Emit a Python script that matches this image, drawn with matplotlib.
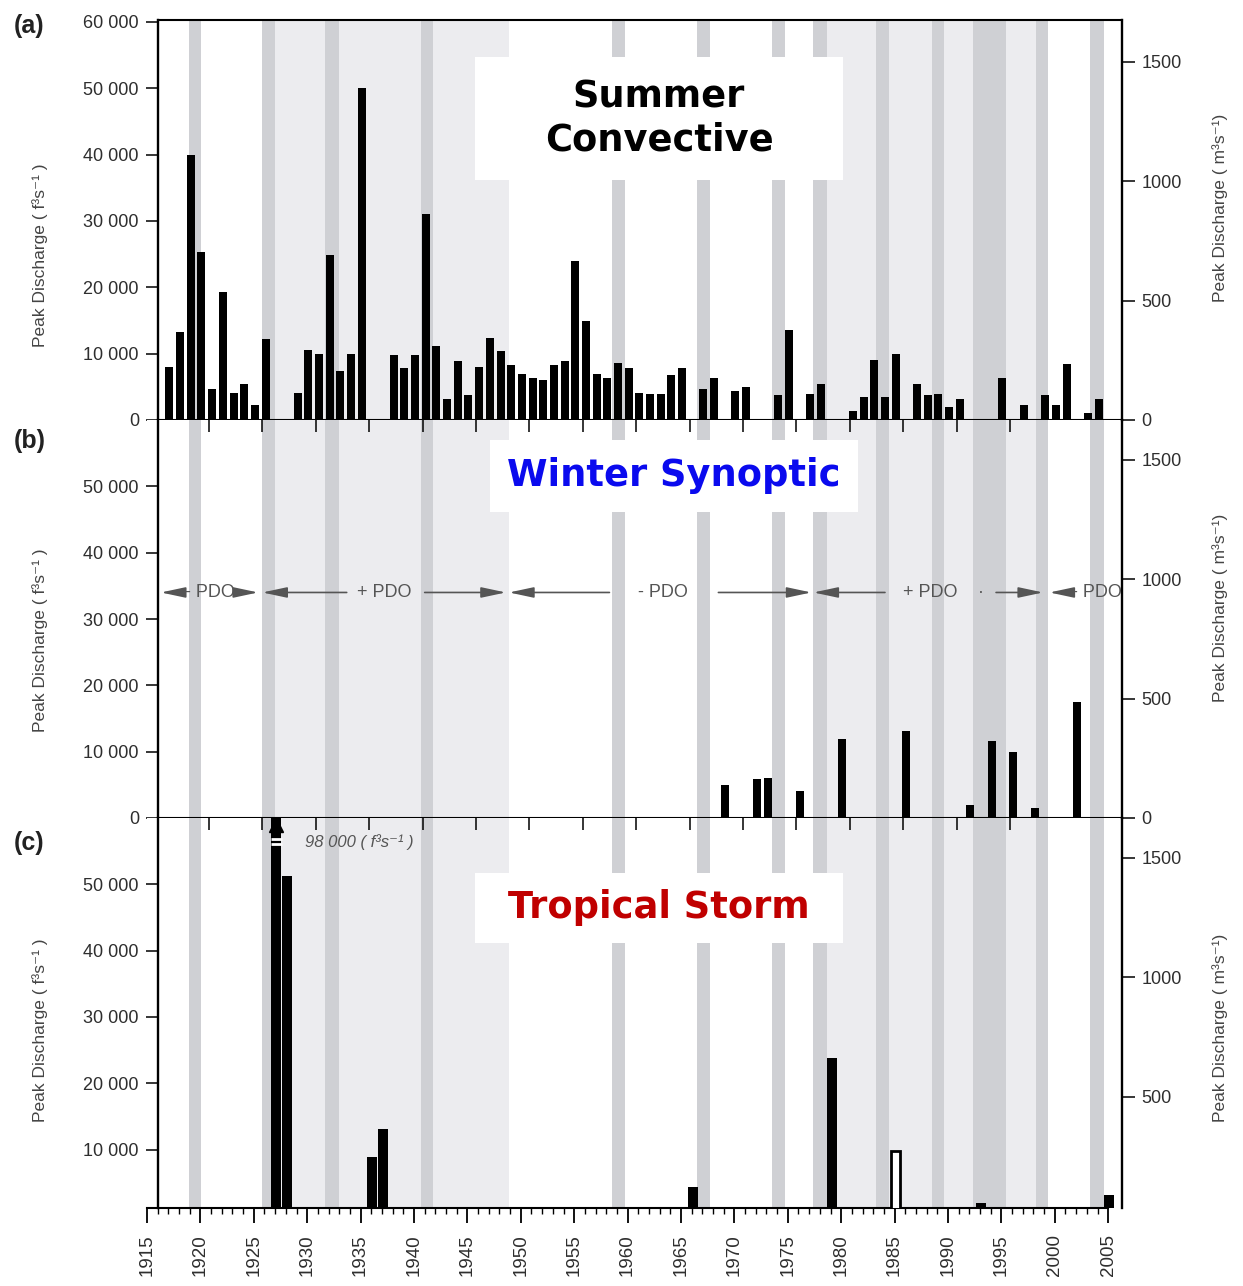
import numpy as np
import matplotlib
matplotlib.use("Agg")
import matplotlib.pyplot as plt
import matplotlib.transforms as mtransforms
from matplotlib.lines import Line2D
from matplotlib.patches import Rectangle
from matplotlib.markers import TICKDOWN
from matplotlib.ticker import FuncFormatter

# ---- data (peak discharge, ft3/s) ----
summer_years = [1917, 1918, 1919, 1920, 1921, 1922, 1923, 1924, 1925, 1926,
                1929, 1930, 1931, 1932, 1933, 1934, 1935,
                1938, 1939, 1940, 1941, 1942, 1943, 1944, 1945, 1946, 1947, 1948,
                1949, 1950, 1951, 1952, 1953, 1954, 1955, 1956, 1957, 1958, 1959,
                1960, 1961, 1962, 1963, 1964, 1965, 1967, 1968, 1970, 1971,
                1974, 1975, 1977, 1978, 1981, 1982, 1983, 1984, 1985,
                1987, 1988, 1989, 1990, 1991, 1995, 1997, 1999, 2000, 2001,
                2003, 2004]
summer_q = [8000, 13300, 40000, 25300, 4700, 19300, 4100, 5400, 2200, 12200,
            4100, 10600, 10000, 24800, 7400, 10000, 50000,
            9800, 7800, 9800, 31000, 11100, 3200, 8900, 3700, 8000, 12300, 10400,
            8300, 7000, 6300, 6000, 8300, 8900, 24000, 14900, 7000, 6300, 8600,
            7800, 4100, 3900, 3900, 6800, 7900, 4700, 6300, 4300, 4900,
            3700, 13500, 3900, 5500, 1300, 3400, 9100, 3400, 10000,
            5500, 3800, 3900, 1900, 3200, 6400, 2300, 3700, 2300, 8500,
            1000, 3200]

winter_years = [1969, 1972, 1973, 1976, 1980, 1986, 1992, 1994, 1996, 1998, 2002]
winter_q = [5000, 5900, 6000, 4100, 11900, 13100, 1900, 11600, 9900, 1500, 17500]

tropical_years = [1927, 1928, 1936, 1937, 1966, 1979, 1985, 1993, 2005]
tropical_q = [98000, 51300, 8900, 13100, 4300, 23800, 9800, 2000, 3100]
tropical_hollow = [1985]

# shaded periods
pos_pdo_light = [(1927.0, 1948.9), (1978.7, 1998.3)]
dark_bands = [(1918.95, 1920.05), (1925.8, 1927.0), (1931.7, 1933.0),
              (1940.7, 1941.8), (1958.5, 1959.8), (1966.5, 1967.7),
              (1973.5, 1974.7), (1977.4, 1978.7), (1983.3, 1984.5),
              (1988.5, 1989.6), (1992.3, 1995.4), (1998.2, 1999.4),
              (2003.3, 2004.6)]

# PDO phase arrows: (tail, tip)
pdo_arrows = [(1918.4, 1916.3), (1923.4, 1925.4),
              (1933.7, 1925.8), (1941.0, 1948.6),
              (1958.3, 1948.9), (1968.5, 1977.2),
              (1984.1, 1977.4), (1994.5, 1998.9),
              (2001.5, 1999.5)]
pdo_labels = [(1920.9, "- PDO", "center"), (1937.2, "+ PDO", "center"),
              (1963.3, "- PDO", "center"), (1988.3, "+ PDO", "center"),
              (1993.1, "·", "center"), (2001.6, "- PDO", "left")]

CFS_PER_CMS = 36.0
plt.rcParams["font.family"] = ["Liberation Sans", "DejaVu Sans"]

W, H = 1243, 1286
fig = plt.figure(figsize=(W / 100, H / 100), dpi=100)


def fx(px):
    return px / W


def fy(py):
    return 1 - py / H


X0, X1 = 1915, 1915 + (1122 - 147) / 10.68
SHIFT = 0.1
LIGHT = "#ececef"
DARK = "#cfd0d4"
TXT = "#2e2e2e"


def make_axes(top, bottom):
    return fig.add_axes([fx(147), fy(bottom), fx(1122) - fx(147),
                         (bottom - top) / H])


ax_a = make_axes(20, 420)
ax_b = make_axes(420, 818)
ax_c = make_axes(818, 1208)

thousands = FuncFormatter(lambda v, p: f"{int(round(v)):,}".replace(",", " "))

ylims = {ax_a: (0, 60300), ax_b: (0, 60000), ax_c: (1206, 60000)}
lticks = {ax_a: np.arange(0, 60001, 10000), ax_b: np.arange(0, 50001, 10000),
          ax_c: np.arange(10000, 50001, 10000)}
rticks = {ax_a: [0, 500, 1000, 1500], ax_b: [0, 500, 1000, 1500],
          ax_c: [500, 1000, 1500]}

for ax in (ax_a, ax_b, ax_c):
    ax.set_xlim(X0, X1)
    ax.set_ylim(*ylims[ax])
    for a0, a1 in pos_pdo_light:
        ax.axvspan(a0, a1, color=LIGHT, lw=0, zorder=0.5)
    for a0, a1 in dark_bands:
        ax.axvspan(a0, a1, color=DARK, lw=0, zorder=0.6)
    ax.spines["right"].set_visible(False)
    ax.spines["top"].set_visible(False)
    ax.spines["left"].set_position(("data", 1916))
    ax.spines["left"].set_linewidth(1.7)
    ax.spines["bottom"].set_linewidth(1.5)
    ax.spines["bottom"].set_bounds(1916, X1)
    ax.set_yticks(lticks[ax])
    ax.yaxis.set_major_formatter(thousands)
    ax.tick_params(axis="y", direction="out", length=8.5, width=1.1, pad=5,
                   labelsize=13, labelcolor=TXT)

    tw = ax.twinx()
    tw.set_ylim(ylims[ax][0] / CFS_PER_CMS, ylims[ax][1] / CFS_PER_CMS)
    tw.set_yticks(rticks[ax])
    for s in ("left", "top", "bottom"):
        tw.spines[s].set_visible(False)
    tw.spines["right"].set_linewidth(1.7)
    tw.tick_params(axis="y", direction="out", length=9, width=1.1, pad=5,
                   labelsize=13, labelcolor=TXT)

ax_a.spines["top"].set_visible(True)
ax_a.spines["top"].set_linewidth(1.5)
ax_a.spines["top"].set_bounds(1916, X1)
ax_a.tick_params(axis="x", bottom=False, top=False, labelbottom=False)
ax_b.tick_params(axis="x", bottom=False, top=False, labelbottom=False)

# ticks on the a/b and b/c boundaries (pointing down into the next panel),
# added at figure level so no panel background hides them
tick_ab = np.arange(1921, 2001, 5) - 0.2
for ax in (ax_b, ax_c):
    tr = mtransforms.blended_transform_factory(ax.transData, ax.transAxes)
    fig.add_artist(Line2D(tick_ab, np.ones(len(tick_ab)), transform=tr,
                          ls="none", marker=TICKDOWN, ms=8.5, mew=1.1,
                          color="black", zorder=10))

ax_c.spines["bottom"].set_bounds(1915, 2005)
ax_c.set_xticks(np.arange(1915, 2006, 5))
ax_c.set_xticks(np.arange(1915, 2006, 1), minor=True)
ax_c.tick_params(axis="x", which="major", direction="out", length=11, width=1.3,
                 pad=8, labelsize=13.5, labelcolor=TXT, labelrotation=90)
ax_c.tick_params(axis="x", which="minor", direction="out", length=4, width=1.0)

# ---- bars ----
ax_a.bar(np.array(summer_years) + SHIFT, summer_q, width=0.75, color="black",
         lw=0, zorder=3)
ax_b.bar(np.array(winter_years) + SHIFT, winter_q, width=0.75, color="black",
         lw=0, zorder=3)
for yr, q in zip(tropical_years, tropical_q):
    if yr in tropical_hollow:
        ax_c.bar(yr + SHIFT, q, width=0.8, facecolor="white", edgecolor="black",
                 lw=2, zorder=3)
    else:
        ax_c.bar(yr + SHIFT, q, width=0.95, color="black", lw=0, zorder=3)

# off-scale 1927 bar: break marks + arrow + note
big = tropical_years[int(np.argmax(tropical_q))] + SHIFT
for yb in (56900, 56050):
    ax_c.hlines(yb, big - 0.5, big + 0.5, color="white", lw=2, zorder=4)
ax_c.plot(big, 58900, marker="^", ms=10, color="black", zorder=5, clip_on=False)
ax_c.text(1929.8, 56300, "98 000 ( f³s⁻¹ )", style="italic", fontsize=12,
          color="#555555", va="center", ha="left", zorder=5)

# ---- PDO arrows ----
Y_PDO = 34000
for tail, tip in pdo_arrows:
    ax_b.annotate("", xy=(tip, Y_PDO), xytext=(tail, Y_PDO),
                  arrowprops=dict(arrowstyle="-|>,head_length=0.75,head_width=0.16",
                                  color="#555555", lw=1.2, shrinkA=0, shrinkB=0,
                                  mutation_scale=20), zorder=4)
for xl, lab, ha in pdo_labels:
    ax_b.text(xl, Y_PDO, lab, ha=ha, va="center", fontsize=13, color="#555555",
              zorder=4)

# ---- title boxes ----
boxes = [(ax_a, 475, 57, 843, 180, "Summer\nConvective", "black"),
         (ax_b, 490, 440, 858, 512, "Winter Synoptic", "#0a0aee"),
         (ax_c, 475, 873, 843, 943, "Tropical Storm", "#c00000")]
for ax, x0, y0, x1, y1, label, col in boxes:
    ax.add_patch(Rectangle((fx(x0), fy(y1)), fx(x1) - fx(x0), (y1 - y0) / H,
                           transform=fig.transFigure, facecolor="white",
                           edgecolor="none", zorder=2))
    ax.text(fx((x0 + x1) / 2), fy((y0 + y1) / 2), label, transform=fig.transFigure,
            ha="center", va="center", multialignment="center", fontsize=26.5,
            fontweight="bold", family="DejaVu Sans", color=col, linespacing=1.2,
            zorder=5)

# ---- panel letters and axis labels ----
for letter, py in (("(a)", 26), ("(b)", 441), ("(c)", 843)):
    fig.text(fx(14), fy(py), letter, fontsize=18, fontweight="bold",
             va="center", ha="left", color="#222222")

for py in (255, 640, 1030):
    fig.text(fx(40), fy(py), "Peak Discharge ( f³s⁻¹ )", rotation=90,
             fontsize=12.5, color="#444444", ha="center", va="center")
for py in (208, 608, 1028):
    fig.text(fx(1220), fy(py), "Peak Discharge ( m³s⁻¹)", rotation=90,
             fontsize=12.5, color="#444444", ha="center", va="center")

fig.savefig("out.png", dpi=100)
